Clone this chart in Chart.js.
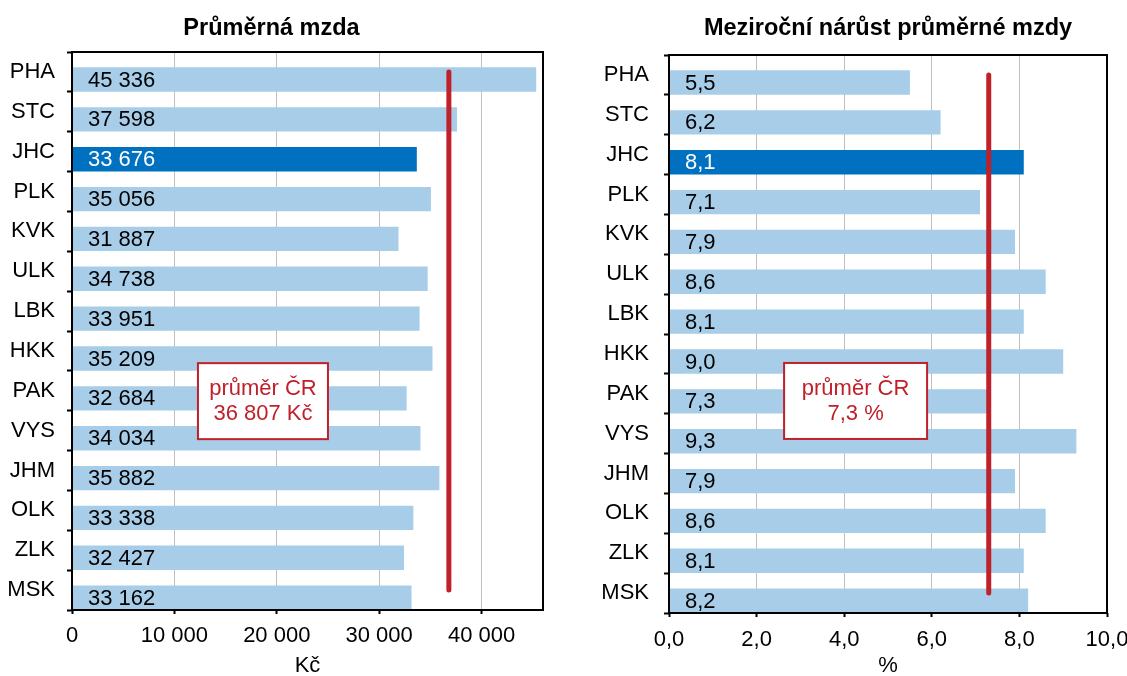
<!DOCTYPE html>
<html>
<head>
<meta charset="utf-8">
<script src="https://cdn.jsdelivr.net/npm/chart.js@4/dist/chart.umd.min.js"></script>
<style>
  html, body { margin: 0; padding: 0; background: #fff; }
  body { width: 1127px; height: 676px; position: relative; overflow: hidden; }
  .pane { position: absolute; top: 0; height: 676px; }
  #pane-wage { left: 0; width: 553px; }
  #pane-growth { left: 580px; width: 547px; }
</style>
</head>
<body>
<div class="pane" id="pane-wage"><canvas id="wage"></canvas></div>
<div class="pane" id="pane-growth"><canvas id="growth"></canvas></div>
<script>
// data
const regions = ["PHA", "STC", "JHC", "PLK", "KVK", "ULK", "LBK", "HKK", "PAK", "VYS", "JHM", "OLK", "ZLK", "MSK"];
const avgWage = [45336, 37598, 33676, 35056, 31887, 34738, 33951, 35209, 32684, 34034, 35882, 33338, 32427, 33162];
const wageGrowth = [5.5, 6.2, 8.1, 7.1, 7.9, 8.6, 8.1, 9.0, 7.3, 9.3, 7.9, 8.6, 8.1, 8.2];
const highlight = "JHC";
const wageCR = 36807;
const growthCR = 7.3;
const wageTicks = [0, 10000, 20000, 30000, 40000];
const growthTicks = [0, 2, 4, 6, 8, 10];

const LIGHT = "#a7cde8";
const DARK = "#0070c0";
const RED = "#c0202a";
const FONT = "'Liberation Sans', Arial, sans-serif";

Chart.defaults.font.family = FONT;
Chart.defaults.color = "#000";

const fmtThousands = v => String(Math.round(v)).replace(/\B(?=(\d{3})+(?!\d))/g, " ");
const fmtDecimal = v => v.toFixed(1).replace(".", ",");

// value labels, the "průměr ČR" note and the plot frame
const overlay = {
  id: "overlay",
  afterDatasetsDraw(chart, args, opts) {
    const ctx = chart.ctx;
    const xs = chart.scales.x, ys = chart.scales.y;
    const ds = chart.data.datasets[2];
    const meta = chart.getDatasetMeta(2);
    ctx.save();
    ctx.font = "22px " + FONT;
    ctx.textBaseline = "middle";
    ctx.textAlign = "left";
    meta.data.forEach((bar, i) => {
      ctx.fillStyle = regions[i] === highlight ? "#fff" : "#000";
      ctx.fillText(opts.format(ds.data[i]), xs.getPixelForValue(0) + 16, bar.y + 1);
    });

    const n = opts.note;
    const cx = xs.getPixelForValue(n.value);
    const y0 = ys.getPixelForValue(Math.floor(n.at));
    const y1 = ys.getPixelForValue(Math.floor(n.at) + 1);
    const cy = y0 + (n.at - Math.floor(n.at)) * (y1 - y0);
    ctx.fillStyle = "#fff";
    ctx.fillRect(cx - n.width / 2, cy - n.height / 2, n.width, n.height);
    ctx.strokeStyle = RED;
    ctx.lineWidth = 2;
    ctx.strokeRect(cx - n.width / 2, cy - n.height / 2, n.width, n.height);
    ctx.fillStyle = RED;
    ctx.font = "22px " + FONT;
    ctx.textAlign = "center";
    ctx.fillText(n.lines[0], cx, cy - 12);
    ctx.fillText(n.lines[1], cx, cy + 13);

    const a = chart.chartArea;
    ctx.strokeStyle = "#000";
    ctx.lineWidth = 2;
    ctx.strokeRect(a.left, a.top, a.right - a.left, a.bottom - a.top);
    ctx.restore();
  }
};

function makeChart(canvas, values, o) {
  return new Chart(canvas, {
    type: "bar",
    plugins: [overlay],
    data: {
      labels: regions,
      datasets: [
        {
          type: "line",
          indexAxis: "y",
          data: regions.map(r => ({ x: o.average, y: r })),
          borderColor: RED,
          borderWidth: 5,
          borderCapStyle: "round",
          pointRadius: 0,
          fill: false,
          order: -1,
        },
        {
          // empty spacer series, pushes the real bars to the lower part of each row
          data: regions.map(() => null),
          backgroundColor: "transparent",
          categoryPercentage: 0.76,
          barPercentage: 1.61,
        },
        {
          data: values,
          backgroundColor: regions.map(r => (r === highlight ? DARK : LIGHT)),
          borderWidth: 0,
          categoryPercentage: 0.76,
          barPercentage: 1.61,
        },
      ],
    },
    options: {
      indexAxis: "y",
      responsive: true,
      maintainAspectRatio: false,
      animation: false,
      layout: { padding: { right: o.padRight } },
      scales: {
        x: {
          min: 0,
          max: o.max,
          afterBuildTicks: s => { s.ticks = o.ticks.map(v => ({ value: v })); },
          afterFit: s => { s.height = o.xHeight; s.paddingLeft = 0; s.paddingRight = 0; },
          ticks: { callback: v => o.format(v), font: { size: 22 }, padding: o.tickPad, maxRotation: 0, autoSkip: false },
          grid: { color: "#bfbfbf", lineWidth: 1, tickColor: "#000", tickLength: 4, tickWidth: 2 },
          border: { display: false },
          title: { display: true, text: o.unit, font: { size: 22 }, padding: { top: 0, bottom: -3 } },
        },
        y: {
          afterFit: s => { s.width = o.yWidth; s.paddingTop = 0; s.paddingBottom = 0; },
          ticks: { font: { size: 22 }, padding: o.labelPad, autoSkip: false },
          grid: { offset: true, drawOnChartArea: false, tickColor: "#000", tickLength: 5, tickWidth: 2 },
          border: { display: false },
        },
      },
      plugins: {
        legend: { display: false },
        tooltip: { enabled: false },
        title: {
          display: true,
          text: o.title,
          fullSize: o.titleFull,
          font: { size: 23.5, weight: "bold" },
          padding: { top: 14, bottom: o.titleBottom },
        },
        overlay: { format: o.format, note: o.note },
      },
    },
  });
}

makeChart(document.getElementById("wage"), avgWage, {
  title: "Průměrná mzda",
  titleFull: true,
  titleBottom: 9.8,
  unit: "Kč",
  max: 46000,
  ticks: wageTicks,
  average: wageCR,
  format: fmtThousands,
  padRight: 10,
  xHeight: 66,
  yWidth: 72,
  tickPad: 9,
  labelPad: 12,
  note: { value: 18650, at: 8.26, width: 130, height: 76, lines: ["průměr ČR", fmtThousands(wageCR) + " Kč"] },
});

makeChart(document.getElementById("growth"), wageGrowth, {
  title: "Meziroční nárůst průměrné mzdy",
  titleFull: false,
  titleBottom: 12.8,
  unit: "%",
  max: 10,
  ticks: growthTicks,
  average: growthCR,
  format: fmtDecimal,
  padRight: 20,
  xHeight: 63,
  yWidth: 89,
  tickPad: 10,
  labelPad: 15,
  note: { value: 4.26, at: 8.18, width: 143, height: 76, lines: ["průměr ČR", fmtDecimal(growthCR) + " %"] },
});
</script>
</body>
</html>
